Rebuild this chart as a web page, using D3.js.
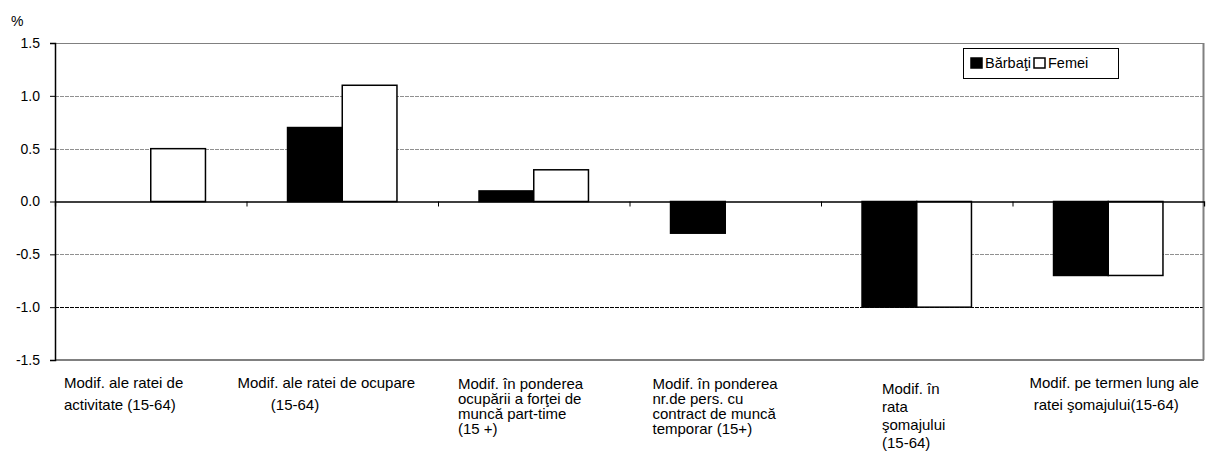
<!DOCTYPE html>
<html>
<head>
<meta charset="utf-8">
<script src="https://cdn.jsdelivr.net/npm/d3@7"></script>
<style>
  body { margin: 0; background: #fff; }
  svg text { font-family: Arial, "Liberation Sans", sans-serif; fill: #000; }
</style>
</head>
<body>
<div id="chart"></div>
<script>
// data
var categories = [
  ["Modif. ale ratei de", "activitate (15-64)"],
  ["Modif. ale ratei de ocupare", "        (15-64)"],
  ["Modif. în ponderea", "ocupării a forţei de", "muncă part-time", "(15 +)"],
  ["Modif. în ponderea", "nr.de pers. cu", "contract de muncă", "temporar (15+)"],
  ["Modif. în", "rata", "şomajului", "(15-64)"],
  ["Modif. pe termen lung ale", " ratei şomajului(15-64)"]
];
var seriesNames = ["Bărbaţi", "Femei"];
var barbati = [0, 0.7, 0.1, -0.3, -1.0, -0.7];
var femei = [0.5, 1.1, 0.3, 0, -1.0, -0.7];
var yTicks = [-1.5, -1.0, -0.5, 0.0, 0.5, 1.0, 1.5];

var svgWidth = 1207, svgHeight = 452;
var margin = {top: 43, right: 3, bottom: 92, left: 55};
var width = svgWidth - margin.left - margin.right;
var height = svgHeight - margin.top - margin.bottom;

var svg = d3.select("#chart").append("svg")
  .attr("width", svgWidth)
  .attr("height", svgHeight);

var chartGroup = svg.append("g")
  .attr("transform", `translate(${margin.left}, ${margin.top})`);

var idx = d3.range(categories.length);

var x0 = d3.scaleBand().domain(idx).range([0, width]).paddingInner(0).paddingOuter(0);
var barW = x0.bandwidth() / 3.5;
var x1 = d3.scaleBand().domain([0, 1]).range([x0.bandwidth() / 2 - barW, x0.bandwidth() / 2 + barW]);
var y = d3.scaleLinear().domain([-1.5, 1.5]).range([height, 0]);

// gridlines
chartGroup.selectAll(".grid").data(yTicks.filter(d => d !== 0 && d !== -1.5))
  .enter().append("line")
  .attr("x1", 0).attr("x2", width)
  .attr("y1", d => Math.round(y(d)) + 0.5).attr("y2", d => Math.round(y(d)) + 0.5)
  .attr("stroke", d => d === -1.0 ? "#000" : (d === 1.5 ? "#808080" : "#909090"))
  .attr("stroke-width", 1)
  .attr("stroke-dasharray", d => d === 1.5 ? null : "4,1");

// frame: right and bottom
chartGroup.append("line")
  .attr("x1", width - 0.5).attr("x2", width - 0.5)
  .attr("y1", 0).attr("y2", height)
  .attr("stroke", "#808080").attr("stroke-width", 2);
chartGroup.append("line")
  .attr("x1", 0).attr("x2", width)
  .attr("y1", height).attr("y2", height)
  .attr("stroke", "#808080").attr("stroke-width", 2);

// bars
var rows = idx.map(i => [barbati[i], femei[i]]);
var groups = chartGroup.selectAll(".grp").data(rows).enter().append("g")
  .attr("transform", (d, i) => `translate(${x0(i)},0)`);

groups.selectAll("rect").data(d => d.map((v, s) => ({v: v, s: s})).filter(o => o.v !== 0))
  .enter().append("rect")
  .attr("x", d => x1(d.s))
  .attr("width", x1.bandwidth())
  .attr("y", d => y(Math.max(0, d.v)))
  .attr("height", d => Math.abs(y(d.v) - y(0)))
  .attr("fill", d => d.s === 0 ? "#000" : "#fff")
  .attr("stroke", "#000")
  .attr("stroke-width", 1.5);

// zero axis with category ticks
var zeroAxis = d3.axisBottom(d3.scaleLinear().domain([0, categories.length]).range([0, width]))
  .tickValues(d3.range(1, categories.length))
  .tickSize(5)
  .tickFormat("");
chartGroup.append("g")
  .attr("transform", `translate(0,${y(0)})`)
  .call(zeroAxis)
  .call(g => g.select(".domain").attr("stroke", "#000").attr("stroke-width", 1.3))
  .call(g => g.selectAll(".tick line").attr("stroke", "#000"));

// y axis (plain hyphen for negatives, as in the original)
var leftAxis = d3.axisLeft(y).tickValues(yTicks).tickSize(5).tickFormat(d => d.toFixed(1));
chartGroup.append("g")
  .call(leftAxis)
  .call(g => g.select(".domain").attr("stroke", "#000").attr("stroke-width", 1.5))
  .call(g => g.selectAll(".tick line").attr("stroke", "#000"))
  .call(g => g.selectAll(".tick text").attr("x", -15).attr("font-size", "14px")
    .attr("font-family", "Arial, 'Liberation Sans', sans-serif").attr("fill", "#000"));

svg.append("text").attr("x", 11).attr("y", 26).attr("font-size", "14px").text("%");

// category labels
var labelDx = [9, -9, 20, 23, 61, 17];
var lineTop = [388, 388, 389, 389, 394, 388];
var lineGap = [21.5, 21.5, 15, 15, 18, 21.5];
chartGroup.selectAll(".cat").data(categories).enter().append("text")
  .attr("font-size", "15px")
  .attr("xml:space", "preserve")
  .attr("transform", (d, i) => `translate(${x0(i) + labelDx[i]},${lineTop[i] - margin.top})`)
  .each(function(d, i) {
    d3.select(this).selectAll("tspan").data(d).enter().append("tspan")
      .attr("x", 0).attr("y", (t, k) => k * lineGap[i])
      .text(t => t);
  });

// legend
var legend = svg.append("g").attr("transform", "translate(963,48)");
legend.append("rect").attr("x", 0.5).attr("y", 0.5).attr("width", 155).attr("height", 30)
  .attr("fill", "#fff").attr("stroke", "#000").attr("stroke-width", 1);
var legendX = [8, 71];
seriesNames.forEach(function(name, s) {
  legend.append("rect")
    .attr("x", legendX[s]).attr("y", 10).attr("width", 11).attr("height", 10)
    .attr("fill", s === 0 ? "#000" : "#fff").attr("stroke", "#000").attr("stroke-width", 1.5);
  legend.append("text")
    .attr("x", legendX[s] + 14).attr("y", 20)
    .attr("font-size", "14.5px")
    .text(name);
});
</script>
</body>
</html>
